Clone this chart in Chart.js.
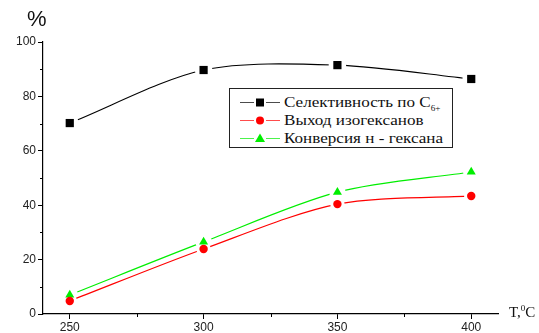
<!DOCTYPE html>
<html>
<head>
<meta charset="utf-8">
<script src="https://cdn.jsdelivr.net/npm/chart.js@4/dist/chart.umd.min.js"></script>
<style>
  html, body { margin: 0; padding: 0; background: #fff; }
  #wrap { position: relative; width: 539px; height: 333px; }
  canvas { position: absolute; left: 0; top: 0; }
  .lbl { position: absolute; color: #111; white-space: nowrap; }
  #pct { left: 27px; top: 6px; font: 22px "Liberation Sans", Arial, sans-serif; }
  #tlab { left: 509px; top: 303px; font: 15px "Liberation Serif", "Times New Roman", serif; }
  #tlab sup { font-size: 9px; vertical-align: 6px; }
  #legend {
    position: absolute; left: 229px; top: 88px; width: 222px; height: 58px;
    border: 1px solid #222; background: #fff;
    font: 15px "Liberation Serif", "Times New Roman", serif; color: #111;
  }
  .row { position: absolute; left: 0; height: 18px; line-height: 18px; }
  .row canvas { position: absolute; left: 9px; top: 0; }
  .row span { position: absolute; left: 54px; top: 0; white-space: nowrap;
              transform: scaleX(1.14); transform-origin: 0 50%; }
  .row sub { font-size: 8px; vertical-align: -4px; }
</style>
</head>
<body>
<div id="wrap">
  <canvas id="chart" width="539" height="333"></canvas>
  <div class="lbl" id="pct">%</div>
  <div class="lbl" id="tlab">T,<sup>0</sup>C</div>
  <div id="legend"></div>
</div>
<script>
document.addEventListener("DOMContentLoaded", function () {
  // Data
  const temps = [250, 300, 350, 400];
  const selectivity = [70.2, 89.7, 91.5, 86.4];
  const isoYield = [4.8, 23.9, 40.4, 43.4];
  const conversion = [7.0, 26.5, 44.8, 52.2];
  const xTicks = [250, 300, 350, 400];
  const yTicks = [0, 20, 40, 60, 80, 100];

  const series = [
    { label: 'Селективность по С', sub: '6+', data: selectivity, color: '#000000', marker: 'rect', r: 5.8, lw: 1.1 },
    { label: 'Выход изогексанов', sub: '', data: isoYield, color: '#ff0000', marker: 'circle', r: 4.2, lw: 1.2 },
    { label: 'Конверсия н - гексана', sub: '', data: conversion, color: '#00ee00', marker: 'triangle', r: 5.2, lw: 1.2 }
  ];

  const toXY = arr => arr.map((v, i) => ({ x: temps[i], y: v }));

  const datasets = [];
  series.forEach((s, i) => {
    // curve; its own white points leave a small gap round each marker
    datasets.push({
      data: toXY(s.data),
      borderColor: s.color,
      borderWidth: s.lw,
      tension: 0.3,
      pointStyle: 'circle',
      pointRadius: s.r + 3,
      pointBackgroundColor: '#ffffff',
      pointBorderWidth: 0,
      order: 10 + i
    });
    // markers on top (lower order is drawn later)
    datasets.push({
      data: toXY(s.data),
      showLine: false,
      pointStyle: s.marker,
      pointRadius: s.r,
      pointBackgroundColor: s.color,
      pointBorderColor: s.color,
      pointBorderWidth: 0,
      order: 1
    });
  });

  // minor ticks between the labelled ones
  const minorTicks = {
    id: 'minorTicks',
    afterDraw(chart) {
      const ctx = chart.ctx;
      const xs = chart.scales.x, ys = chart.scales.y;
      const a = chart.chartArea;
      ctx.save();
      ctx.strokeStyle = '#000';
      ctx.lineWidth = 1;
      [275, 325, 375].forEach(v => {
        const px = Math.round(xs.getPixelForValue(v)) + 0.5;
        ctx.beginPath(); ctx.moveTo(px, a.bottom); ctx.lineTo(px, a.bottom + 3); ctx.stroke();
      });
      [10, 30, 50, 70, 90].forEach(v => {
        const py = Math.round(ys.getPixelForValue(v)) + 0.5;
        ctx.beginPath(); ctx.moveTo(a.left - 3, py); ctx.lineTo(a.left, py); ctx.stroke();
      });
      ctx.restore();
    }
  };

  const tickFont = { family: "'Liberation Sans', Arial, sans-serif", size: 12 };

  new Chart(document.getElementById('chart').getContext('2d'), {
    type: 'line',
    data: { datasets: datasets },
    options: {
      responsive: false,
      animation: false,
      clip: false,
      layout: { padding: { top: 42, right: 41, left: 0, bottom: 0 } },
      plugins: { legend: { display: false }, tooltip: { enabled: false } },
      scales: {
        x: {
          type: 'linear',
          min: 240,
          max: 410,
          afterBuildTicks: s => { s.ticks = xTicks.map(v => ({ value: v })); },
          afterFit: s => { s.height = 19; },
          grid: { drawOnChartArea: false, drawTicks: true, tickLength: 5, color: '#000' },
          border: { display: true, color: '#000', width: 1.2 },
          ticks: { font: tickFont, color: '#222', padding: 1, maxRotation: 0 }
        },
        y: {
          min: 0,
          max: 100,
          afterBuildTicks: s => { s.ticks = yTicks.map(v => ({ value: v })); },
          afterFit: s => { s.width = 43; },
          grid: { drawOnChartArea: false, drawTicks: true, tickLength: 5, color: '#000' },
          border: { display: true, color: '#000', width: 1.2 },
          ticks: { font: tickFont, color: '#222', padding: 2 }
        }
      }
    },
    plugins: [minorTicks]
  });

  // HTML legend (needs the subscript)
  const legend = document.getElementById('legend');
  const rowTops = [4, 22, 40];
  series.forEach((s, i) => {
    const row = document.createElement('div');
    row.className = 'row';
    row.style.top = rowTops[i] + 'px';
    const c = document.createElement('canvas');
    c.width = 44; c.height = 18;
    const g = c.getContext('2d');
    g.strokeStyle = s.color;
    g.globalAlpha = 0.7;
    g.lineWidth = 1.2;
    g.beginPath(); g.moveTo(1, 9.5); g.lineTo(15, 9.5); g.moveTo(27, 9.5); g.lineTo(41, 9.5); g.stroke();
    g.globalAlpha = 1;
    g.fillStyle = s.color;
    if (s.marker === 'rect') g.fillRect(17, 5.5, 8, 8);
    else if (s.marker === 'circle') { g.beginPath(); g.arc(21, 9.5, 4, 0, Math.PI * 2); g.fill(); }
    else { g.beginPath(); g.moveTo(21, 4.5); g.lineTo(26, 13); g.lineTo(16, 13); g.closePath(); g.fill(); }
    row.appendChild(c);
    const t = document.createElement('span');
    t.innerHTML = s.label + (s.sub ? '<sub>' + s.sub + '</sub>' : '');
    row.appendChild(t);
    legend.appendChild(row);
  });
});
</script>
</body>
</html>
